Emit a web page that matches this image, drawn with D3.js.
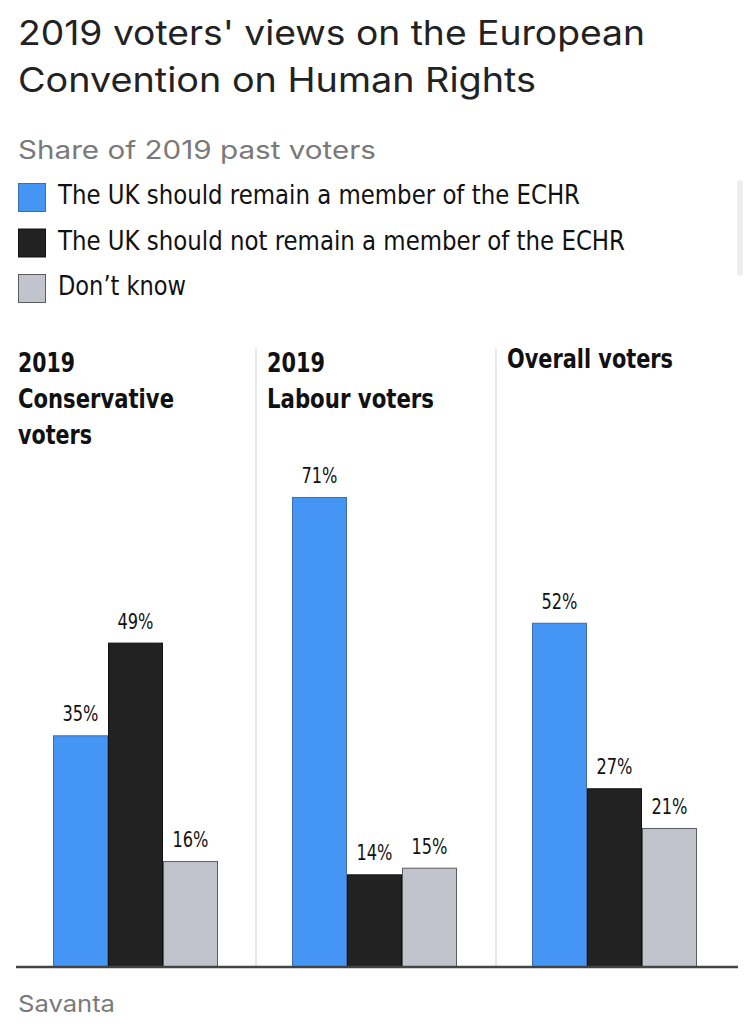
<!DOCTYPE html>
<html><head><meta charset="utf-8">
<script src="https://cdn.jsdelivr.net/npm/d3@7"></script>
<style>
html,body{margin:0;padding:0;background:#fff;}
svg{display:block;}
</style></head>
<body>
<script>
const groups = ["2019 Conservative voters", "2019 Labour voters", "Overall voters"];
const groupLines = [["2019", "Conservative", "voters"], ["2019", "Labour voters"], ["Overall voters"]];
const seriesNames = ["The UK should remain a member of the ECHR", "The UK should not remain a member of the ECHR", "Don\u2019t know"];
const remain = [35, 71, 52];
const notRemain = [49, 14, 27];
const dontKnow = [16, 15, 21];
const colors = ["#4595f5", "#222222", "#c1c4cc"];
const strokes = ["#3b6fae", "#111111", "#5a5c60"];

const W = 750, H = 1035;
const svg = d3.select("body").append("svg").attr("width", W).attr("height", H);
const cond = "'Liberation Sans Narrow','DejaVu Sans Condensed','Roboto Condensed',Roboto,'Liberation Sans',sans-serif";
const sans = "'Helvetica Neue',Inter,Roboto,'Liberation Sans',sans-serif";

// Title
svg.append("text").attr("x", 18).attr("y", 45).attr("font-family", sans).attr("font-size", 34)
  .attr("fill", "#222").attr("textLength", 627).attr("lengthAdjust", "spacingAndGlyphs")
  .text("2019 voters' views on the European");
svg.append("text").attr("x", 18).attr("y", 92).attr("font-family", sans).attr("font-size", 34)
  .attr("fill", "#222").attr("textLength", 518).attr("lengthAdjust", "spacingAndGlyphs")
  .text("Convention on Human Rights");
svg.append("text").attr("x", 18).attr("y", 159).attr("font-family", sans).attr("font-size", 25)
  .attr("fill", "#7a7a7a").attr("textLength", 358).attr("lengthAdjust", "spacingAndGlyphs")
  .text("Share of 2019 past voters");

// Legend
const legW = [522, 567, 128];
seriesNames.forEach((s, i) => {
  const y0 = 183 + i * 45.5;
  svg.append("rect").attr("x", 18.5).attr("y", y0 + 0.5).attr("width", 27).attr("height", 28)
    .attr("fill", colors[i]).attr("stroke", strokes[i]).attr("stroke-width", 1);
  svg.append("text").attr("x", 58).attr("y", y0 + 21).attr("font-family", cond).attr("font-size", 27)
    .attr("fill", "#111").attr("textLength", legW[i]).attr("lengthAdjust", "spacingAndGlyphs").text(s);
});

// scrollbar artifact
svg.append("rect").attr("x", 737).attr("y", 180).attr("width", 6).attr("height", 96).attr("rx", 3).attr("fill", "#eeeeee");

// Panels
const baseY = 967;
const y = d3.scaleLinear().domain([0, 100]).range([baseY, baseY - 662]);
const barX = d3.scaleBand().domain([0, 1, 2]).range([37, 202]).paddingInner(0);
const values = [remain, notRemain, dontKnow];
const headW = [[57, 156, 74], [58, 167], [166]];
const panelOffsets = [0, 239, 479];

// separators
[256, 496].forEach(x => {
  svg.append("line").attr("x1", x).attr("x2", x).attr("y1", 349).attr("y2", baseY)
    .attr("stroke", "#e0e0e0").attr("stroke-width", 1.5);
});

groups.forEach((g, gi) => {
  const ox = panelOffsets[gi];
  const gEl = svg.append("g").attr("transform", `translate(${16 + ox},0)`);
  groupLines[gi].forEach((line, li) => {
    gEl.append("text").attr("x", gi === 0 ? 2 : 12).attr("y", (gi === 2 ? 368 : 372) + li * 36)
      .attr("font-family", cond).attr("font-weight", "bold").attr("font-size", 27).attr("fill", "#111")
      .attr("textLength", headW[gi][li]).attr("lengthAdjust", "spacingAndGlyphs").text(line);
  });
  values.forEach((vals, si) => {
    const v = vals[gi];
    const bx = barX(si);
    gEl.append("rect").attr("x", bx + 0.5).attr("y", y(v) + 0.5).attr("width", barX.bandwidth() - 1)
      .attr("height", baseY - y(v) - 0.5).attr("fill", colors[si]).attr("stroke", strokes[si]).attr("stroke-width", 1);
    gEl.append("text").attr("x", bx + barX.bandwidth() / 2).attr("y", y(v) - 14)
      .attr("text-anchor", "middle").attr("font-family", cond).attr("font-size", 22).attr("fill", "#111")
      .attr("textLength", 36).attr("lengthAdjust", "spacingAndGlyphs").text(v + "%");
  });
});

// baseline axis
svg.append("line").attr("x1", 16).attr("x2", 738).attr("y1", baseY).attr("y2", baseY)
  .attr("stroke", "#444").attr("stroke-width", 2.5);

// Source
svg.append("text").attr("x", 18).attr("y", 1012).attr("font-family", sans).attr("font-size", 23)
  .attr("fill", "#7a7a7a").attr("textLength", 97).attr("lengthAdjust", "spacingAndGlyphs").text("Savanta");
</script>
</body></html>
